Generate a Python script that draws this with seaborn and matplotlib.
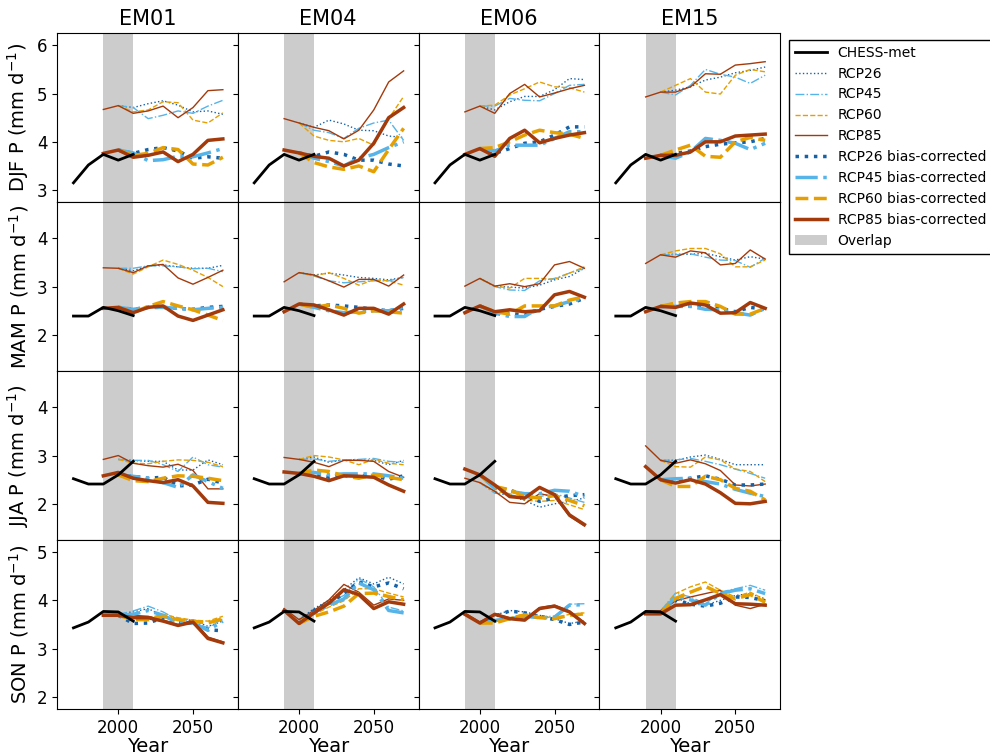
import numpy as np
import pandas as pd
import matplotlib
matplotlib.use("Agg")
import matplotlib.pyplot as plt
import seaborn as sns

MEMBERS = ["EM01", "EM04", "EM06", "EM15"]
SEASONS = ["DJF", "MAM", "JJA", "SON"]
YEARS_CHESS = [1970, 1980, 1990, 2000, 2010]
YEARS_85 = [1990, 2000, 2010, 2020, 2030, 2040, 2050, 2060, 2070]
YEARS_OTHER = [2000, 2010, 2020, 2030, 2040, 2050, 2060, 2070]
OVERLAP = (1990, 2010)

# ---------------- DJF ----------------
CHESS_DJF = [3.15, 3.52, 3.74, 3.62, 3.74]
DJF_RCP85 = [[4.67, 4.75, 4.59, 4.64, 4.74, 4.50, 4.71, 5.06, 5.08],
             [4.48, 4.39, 4.30, 4.23, 4.06, 4.24, 4.66, 5.24, 5.47],
             [4.62, 4.74, 4.59, 5.00, 5.19, 4.93, 5.01, 5.10, 5.17],
             [4.93, 5.03, 5.03, 5.14, 5.41, 5.40, 5.59, 5.62, 5.66]]
DJF_RCP26 = [[4.75, 4.71, 4.79, 4.85, 4.76, 4.62, 4.64, 4.57],
             [4.39, 4.30, 4.45, 4.37, 4.24, 4.23, 4.12, 4.09],
             [4.74, 4.66, 4.83, 4.94, 4.94, 5.08, 5.31, 5.29],
             [5.03, 5.07, 5.14, 5.28, 5.34, 5.43, 5.48, 5.55]]
DJF_RCP45 = [[4.75, 4.71, 4.48, 4.55, 4.64, 4.59, 4.74, 4.86],
             [4.39, 4.24, 4.19, 4.07, 4.28, 4.39, 4.45, 4.03],
             [4.74, 4.74, 4.90, 4.86, 4.85, 5.00, 5.17, 5.19],
             [5.03, 4.97, 5.17, 5.50, 5.40, 5.34, 5.21, 5.38]]
DJF_RCP60 = [[4.75, 4.62, 4.66, 4.83, 4.81, 4.45, 4.39, 4.60],
             [4.39, 4.12, 4.03, 4.00, 4.07, 3.93, 4.48, 4.94],
             [4.74, 4.76, 4.97, 5.10, 5.24, 5.14, 5.12, 5.03],
             [5.03, 5.17, 5.31, 5.03, 4.99, 5.38, 5.50, 5.45]]
DJF_RCP85_BC = [[3.76, 3.83, 3.68, 3.72, 3.79, 3.59, 3.74, 4.03, 4.06],
                [3.83, 3.77, 3.70, 3.66, 3.50, 3.62, 3.97, 4.50, 4.71],
                [3.74, 3.86, 3.70, 4.07, 4.24, 3.98, 4.07, 4.14, 4.19],
                [3.66, 3.72, 3.72, 3.79, 4.00, 4.00, 4.12, 4.14, 4.16]]
DJF_RCP26_BC = [[3.83, 3.76, 3.84, 3.88, 3.81, 3.66, 3.69, 3.66],
                [3.77, 3.70, 3.79, 3.74, 3.62, 3.62, 3.54, 3.50],
                [3.86, 3.76, 3.86, 3.97, 4.00, 4.14, 4.31, 4.31],
                [3.72, 3.76, 3.81, 3.90, 3.95, 3.98, 4.00, 4.07]]
DJF_RCP45_BC = [[3.83, 3.77, 3.61, 3.63, 3.70, 3.69, 3.77, 3.86],
                [3.77, 3.66, 3.59, 3.50, 3.66, 3.74, 3.88, 4.00],
                [3.86, 3.81, 3.93, 3.93, 3.93, 4.07, 4.21, 4.21],
                [3.72, 3.66, 3.79, 4.07, 4.03, 3.97, 3.84, 3.97]]
DJF_RCP60_BC = [[3.83, 3.72, 3.76, 3.88, 3.84, 3.54, 3.52, 3.68],
                [3.77, 3.57, 3.48, 3.43, 3.50, 3.38, 3.84, 4.28],
                [3.86, 3.88, 4.00, 4.14, 4.24, 4.19, 4.16, 4.07],
                [3.72, 3.83, 3.93, 3.70, 3.68, 4.00, 4.09, 4.03]]

# ---------------- MAM ----------------
CHESS_MAM = [2.39, 2.39, 2.57, 2.50, 2.40]
MAM_RCP85 = [[3.39, 3.38, 3.29, 3.43, 3.46, 3.18, 3.05, 3.19, 3.34],
             [3.10, 3.29, 3.24, 3.12, 2.99, 3.15, 3.15, 3.01, 3.24],
             [3.01, 3.17, 3.01, 3.06, 3.00, 3.06, 3.45, 3.52, 3.38],
             [3.48, 3.66, 3.61, 3.74, 3.70, 3.45, 3.48, 3.76, 3.57]]
MAM_RCP26 = [[3.38, 3.33, 3.43, 3.45, 3.41, 3.38, 3.38, 3.44],
             [3.29, 3.24, 3.28, 3.24, 3.19, 3.17, 3.14, 3.19],
             [3.17, 3.01, 2.99, 2.97, 3.03, 3.14, 3.21, 3.38],
             [3.66, 3.67, 3.67, 3.69, 3.62, 3.55, 3.62, 3.57]]
MAM_RCP45 = [[3.38, 3.38, 3.43, 3.43, 3.41, 3.37, 3.38, 3.31],
             [3.29, 3.22, 3.12, 3.08, 3.10, 3.12, 3.12, 3.19],
             [3.17, 3.00, 2.93, 2.92, 3.12, 3.17, 3.28, 3.38],
             [3.66, 3.66, 3.68, 3.61, 3.55, 3.54, 3.40, 3.59]]
MAM_RCP60 = [[3.38, 3.26, 3.41, 3.55, 3.46, 3.34, 3.19, 3.00],
             [3.29, 3.22, 3.29, 3.17, 3.03, 3.14, 3.12, 3.03],
             [3.17, 3.01, 2.97, 3.17, 3.17, 3.15, 3.28, 3.41],
             [3.66, 3.74, 3.79, 3.79, 3.68, 3.41, 3.41, 3.55]]
MAM_RCP85_BC = [[2.55, 2.57, 2.46, 2.57, 2.60, 2.39, 2.30, 2.41, 2.52],
                [2.48, 2.64, 2.62, 2.52, 2.41, 2.55, 2.55, 2.43, 2.64],
                [2.46, 2.60, 2.48, 2.52, 2.48, 2.50, 2.83, 2.90, 2.78],
                [2.48, 2.59, 2.57, 2.66, 2.62, 2.45, 2.46, 2.67, 2.55]]
MAM_RCP26_BC = [[2.57, 2.53, 2.57, 2.57, 2.55, 2.53, 2.57, 2.59],
                [2.64, 2.60, 2.62, 2.60, 2.57, 2.53, 2.50, 2.55],
                [2.60, 2.46, 2.45, 2.41, 2.53, 2.59, 2.64, 2.76],
                [2.59, 2.59, 2.60, 2.62, 2.55, 2.48, 2.57, 2.53]]
MAM_RCP45_BC = [[2.57, 2.53, 2.57, 2.57, 2.55, 2.52, 2.55, 2.57],
                [2.64, 2.57, 2.50, 2.46, 2.48, 2.50, 2.50, 2.57],
                [2.60, 2.45, 2.38, 2.38, 2.57, 2.60, 2.69, 2.76],
                [2.59, 2.59, 2.59, 2.53, 2.52, 2.46, 2.41, 2.55]]
MAM_RCP60_BC = [[2.57, 2.46, 2.59, 2.69, 2.60, 2.52, 2.41, 2.30],
                [2.64, 2.57, 2.62, 2.55, 2.45, 2.50, 2.48, 2.45],
                [2.60, 2.48, 2.43, 2.60, 2.60, 2.60, 2.72, 2.79],
                [2.59, 2.66, 2.69, 2.69, 2.59, 2.43, 2.43, 2.55]]

# ---------------- JJA ----------------
CHESS_JJA = [2.52, 2.41, 2.41, 2.60, 2.88]
JJA_RCP85 = [[2.92, 3.00, 2.84, 2.79, 2.76, 2.82, 2.69, 2.31, 2.31],
             [2.96, 2.92, 2.86, 2.77, 2.90, 2.90, 2.88, 2.67, 2.55],
             [2.53, 2.44, 2.26, 2.03, 2.00, 2.21, 2.15, 1.74, 1.54],
             [3.20, 2.90, 2.84, 2.91, 2.83, 2.69, 2.39, 2.37, 2.41]]
JJA_RCP26 = [[2.92, 2.90, 2.88, 2.88, 2.70, 2.70, 2.91, 2.81],
             [2.92, 2.97, 2.86, 2.91, 2.91, 2.90, 2.81, 2.90],
             [2.44, 2.23, 2.17, 2.07, 1.93, 2.00, 2.05, 2.12],
             [2.90, 2.90, 2.97, 3.01, 2.92, 2.81, 2.81, 2.81]]
JJA_RCP45 = [[2.92, 2.90, 2.90, 2.81, 2.67, 2.97, 2.81, 2.76],
             [2.92, 2.93, 2.88, 2.91, 2.92, 2.94, 2.88, 2.86],
             [2.44, 2.22, 2.19, 2.12, 2.15, 2.21, 2.12, 2.03],
             [2.90, 2.91, 2.94, 2.88, 2.81, 2.72, 2.63, 2.53]]
JJA_RCP60 = [[2.92, 2.84, 2.83, 2.88, 2.91, 2.90, 2.86, 2.77],
             [2.92, 3.00, 2.97, 2.91, 2.81, 2.92, 2.84, 2.81],
             [2.44, 2.26, 2.21, 2.08, 2.05, 2.07, 1.98, 1.88],
             [2.90, 2.77, 2.76, 2.97, 2.91, 2.72, 2.67, 2.46]]
JJA_RCP85_BC = [[2.58, 2.65, 2.53, 2.48, 2.44, 2.50, 2.37, 2.03, 2.01],
                [2.66, 2.63, 2.57, 2.48, 2.58, 2.57, 2.55, 2.39, 2.26],
                [2.72, 2.60, 2.39, 2.15, 2.12, 2.34, 2.19, 1.77, 1.57],
                [2.77, 2.50, 2.43, 2.50, 2.41, 2.23, 2.01, 2.00, 2.05]]
JJA_RCP26_BC = [[2.60, 2.57, 2.53, 2.55, 2.37, 2.39, 2.51, 2.43],
                [2.63, 2.62, 2.55, 2.60, 2.58, 2.58, 2.51, 2.58],
                [2.60, 2.34, 2.28, 2.19, 2.05, 2.12, 2.17, 2.19],
                [2.50, 2.48, 2.53, 2.58, 2.51, 2.39, 2.39, 2.41]]
JJA_RCP45_BC = [[2.60, 2.57, 2.53, 2.44, 2.34, 2.60, 2.46, 2.32],
                [2.63, 2.65, 2.60, 2.62, 2.62, 2.62, 2.58, 2.53],
                [2.60, 2.32, 2.26, 2.21, 2.21, 2.28, 2.26, 2.15],
                [2.50, 2.52, 2.53, 2.46, 2.41, 2.30, 2.22, 2.15]]
JJA_RCP60_BC = [[2.60, 2.48, 2.46, 2.53, 2.58, 2.57, 2.53, 2.48],
                [2.63, 2.70, 2.67, 2.58, 2.53, 2.60, 2.55, 2.50],
                [2.60, 2.36, 2.29, 2.15, 2.12, 2.17, 2.07, 1.96],
                [2.50, 2.36, 2.36, 2.57, 2.50, 2.32, 2.26, 2.08]]

# ---------------- SON ----------------
CHESS_SON = [3.43, 3.55, 3.77, 3.76, 3.57]
SON_RCP85 = [[3.71, 3.71, 3.69, 3.67, 3.59, 3.50, 3.59, 3.24, 3.14],
             [3.83, 3.60, 3.79, 4.01, 4.33, 4.17, 3.90, 4.03, 4.00],
             [3.74, 3.55, 3.72, 3.64, 3.60, 3.85, 3.90, 3.78, 3.54],
             [3.78, 3.78, 3.99, 4.07, 4.14, 4.21, 3.90, 3.83, 3.92]]
SON_RCP26 = [[3.71, 3.76, 3.83, 3.67, 3.60, 3.59, 3.46, 3.57],
             [3.60, 3.83, 4.00, 4.22, 4.47, 4.34, 4.48, 4.34],
             [3.55, 3.69, 3.79, 3.76, 3.69, 3.62, 3.52, 3.57],
             [3.78, 4.06, 3.93, 3.90, 4.00, 4.10, 4.14, 4.03]]
SON_RCP45 = [[3.71, 3.78, 3.88, 3.76, 3.59, 3.55, 3.43, 3.62],
             [3.60, 3.79, 3.97, 4.10, 4.45, 4.28, 3.86, 3.78],
             [3.55, 3.60, 3.64, 3.69, 3.66, 3.67, 3.92, 3.93],
             [3.78, 4.15, 4.07, 3.93, 4.17, 4.24, 4.31, 4.21]]
SON_RCP60 = [[3.71, 3.64, 3.64, 3.71, 3.64, 3.59, 3.57, 3.67],
             [3.60, 3.71, 3.86, 3.99, 4.24, 4.24, 4.15, 4.07],
             [3.55, 3.55, 3.64, 3.72, 3.66, 3.64, 3.71, 3.74],
             [3.78, 4.14, 4.28, 4.38, 4.21, 4.07, 4.17, 4.01]]
SON_RCP85_BC = [[3.69, 3.69, 3.64, 3.64, 3.57, 3.48, 3.55, 3.21, 3.12],
                [3.79, 3.52, 3.74, 3.94, 4.22, 4.12, 3.83, 3.97, 3.92],
                [3.71, 3.53, 3.71, 3.62, 3.59, 3.83, 3.88, 3.76, 3.52],
                [3.72, 3.72, 3.90, 3.91, 4.01, 4.12, 3.93, 3.92, 3.90]]
SON_RCP26_BC = [[3.69, 3.52, 3.53, 3.64, 3.55, 3.52, 3.39, 3.37],
                [3.52, 3.79, 3.93, 4.14, 4.38, 4.28, 4.36, 4.24],
                [3.53, 3.67, 3.78, 3.74, 3.67, 3.60, 3.50, 3.55],
                [3.72, 4.00, 3.92, 3.88, 3.94, 4.07, 4.06, 3.99]]
SON_RCP45_BC = [[3.69, 3.71, 3.79, 3.69, 3.53, 3.53, 3.38, 3.57],
                [3.52, 3.74, 3.90, 4.03, 4.36, 4.22, 3.79, 3.74],
                [3.53, 3.58, 3.62, 3.67, 3.64, 3.65, 3.90, 3.91],
                [3.72, 4.08, 4.01, 3.90, 4.14, 4.21, 4.24, 4.14]]
SON_RCP60_BC = [[3.69, 3.60, 3.60, 3.67, 3.60, 3.57, 3.53, 3.62],
                [3.52, 3.67, 3.76, 3.88, 4.14, 4.15, 4.08, 4.01],
                [3.53, 3.53, 3.62, 3.70, 3.64, 3.62, 3.69, 3.72],
                [3.72, 4.04, 4.17, 4.29, 4.14, 4.03, 4.12, 3.96]]

CHESS = {"DJF": CHESS_DJF, "MAM": CHESS_MAM, "JJA": CHESS_JJA, "SON": CHESS_SON}
RAW = {
    "DJF": [DJF_RCP26, DJF_RCP45, DJF_RCP60, DJF_RCP85],
    "MAM": [MAM_RCP26, MAM_RCP45, MAM_RCP60, MAM_RCP85],
    "JJA": [JJA_RCP26, JJA_RCP45, JJA_RCP60, JJA_RCP85],
    "SON": [SON_RCP26, SON_RCP45, SON_RCP60, SON_RCP85],
}
BC = {
    "DJF": [DJF_RCP26_BC, DJF_RCP45_BC, DJF_RCP60_BC, DJF_RCP85_BC],
    "MAM": [MAM_RCP26_BC, MAM_RCP45_BC, MAM_RCP60_BC, MAM_RCP85_BC],
    "JJA": [JJA_RCP26_BC, JJA_RCP45_BC, JJA_RCP60_BC, JJA_RCP85_BC],
    "SON": [SON_RCP26_BC, SON_RCP45_BC, SON_RCP60_BC, SON_RCP85_BC],
}
SCEN = ["RCP26", "RCP45", "RCP60", "RCP85"]
COLORS = ["#1662a8", "#56b4e9", "#e69f00", "#a33a0c"]
STYLES = [":", "-.", "--", "-"]
YLIMS = {"DJF": (2.75, 6.25), "MAM": (1.25, 4.75), "JJA": (1.25, 4.75), "SON": (1.75, 5.25)}
YTICKS = {"DJF": [3, 4, 5, 6], "MAM": [2, 3, 4], "JJA": [2, 3, 4], "SON": [2, 3, 4, 5]}

fig, axes = plt.subplots(4, 4, figsize=(9.9, 7.55), dpi=100, sharex=True, sharey="row")
fig.subplots_adjust(left=0.0576, right=0.788, top=0.956, bottom=0.061, wspace=0, hspace=0)

for r, season in enumerate(SEASONS):
    for c, member in enumerate(MEMBERS):
        ax = axes[r, c]
        ax.axvspan(OVERLAP[0], OVERLAP[1], color="#cccccc", lw=0, zorder=0, label="Overlap")
        sns.lineplot(x=YEARS_CHESS, y=CHESS[season], ax=ax, color="black", lw=2.0,
                     label="CHESS-met", zorder=5)
        for k, sc in enumerate(SCEN):
            yrs = YEARS_85 if sc == "RCP85" else YEARS_OTHER
            sns.lineplot(x=yrs, y=RAW[season][k][c], ax=ax, color=COLORS[k],
                         linestyle=STYLES[k], lw=1.0, label=sc, zorder=3)
        for k, sc in enumerate(SCEN):
            yrs = YEARS_85 if sc == "RCP85" else YEARS_OTHER
            sns.lineplot(x=yrs, y=BC[season][k][c], ax=ax, color=COLORS[k],
                         linestyle=STYLES[k], lw=2.5, label=sc + " bias-corrected", zorder=4)
        if r == 0 and c == 3:
            handles, labels = ax.get_legend_handles_labels()
        if ax.get_legend() is not None:
            ax.get_legend().remove()
        ax.set_xlim(1959, 2080)
        ax.set_ylim(*YLIMS[season])
        ax.set_yticks(YTICKS[season])
        ax.set_xticks([2000, 2050])
        ax.tick_params(labelsize=12)
        if r == 3:
            ax.set_xlabel("Year", fontsize=14, labelpad=0)
        else:
            ax.set_xlabel("")
        if c == 0:
            ax.set_ylabel(season + r" P (mm d$^{-1}$)", fontsize=14)
        else:
            ax.set_ylabel("")
        if r == 0:
            ax.set_title(member, fontsize=15)

order = ["CHESS-met", "RCP26", "RCP45", "RCP60", "RCP85",
         "RCP26 bias-corrected", "RCP45 bias-corrected", "RCP60 bias-corrected",
         "RCP85 bias-corrected", "Overlap"]
hmap = dict(zip(labels, handles))
fig.legend([hmap[l] for l in order], order, loc="upper left",
           bbox_to_anchor=(789 / 990, 1 - 40 / 755), fontsize=10,
           frameon=True, fancybox=False, edgecolor="black", framealpha=1,
           handlelength=2.3, borderaxespad=0)

fig.savefig("out.png", dpi=100)
